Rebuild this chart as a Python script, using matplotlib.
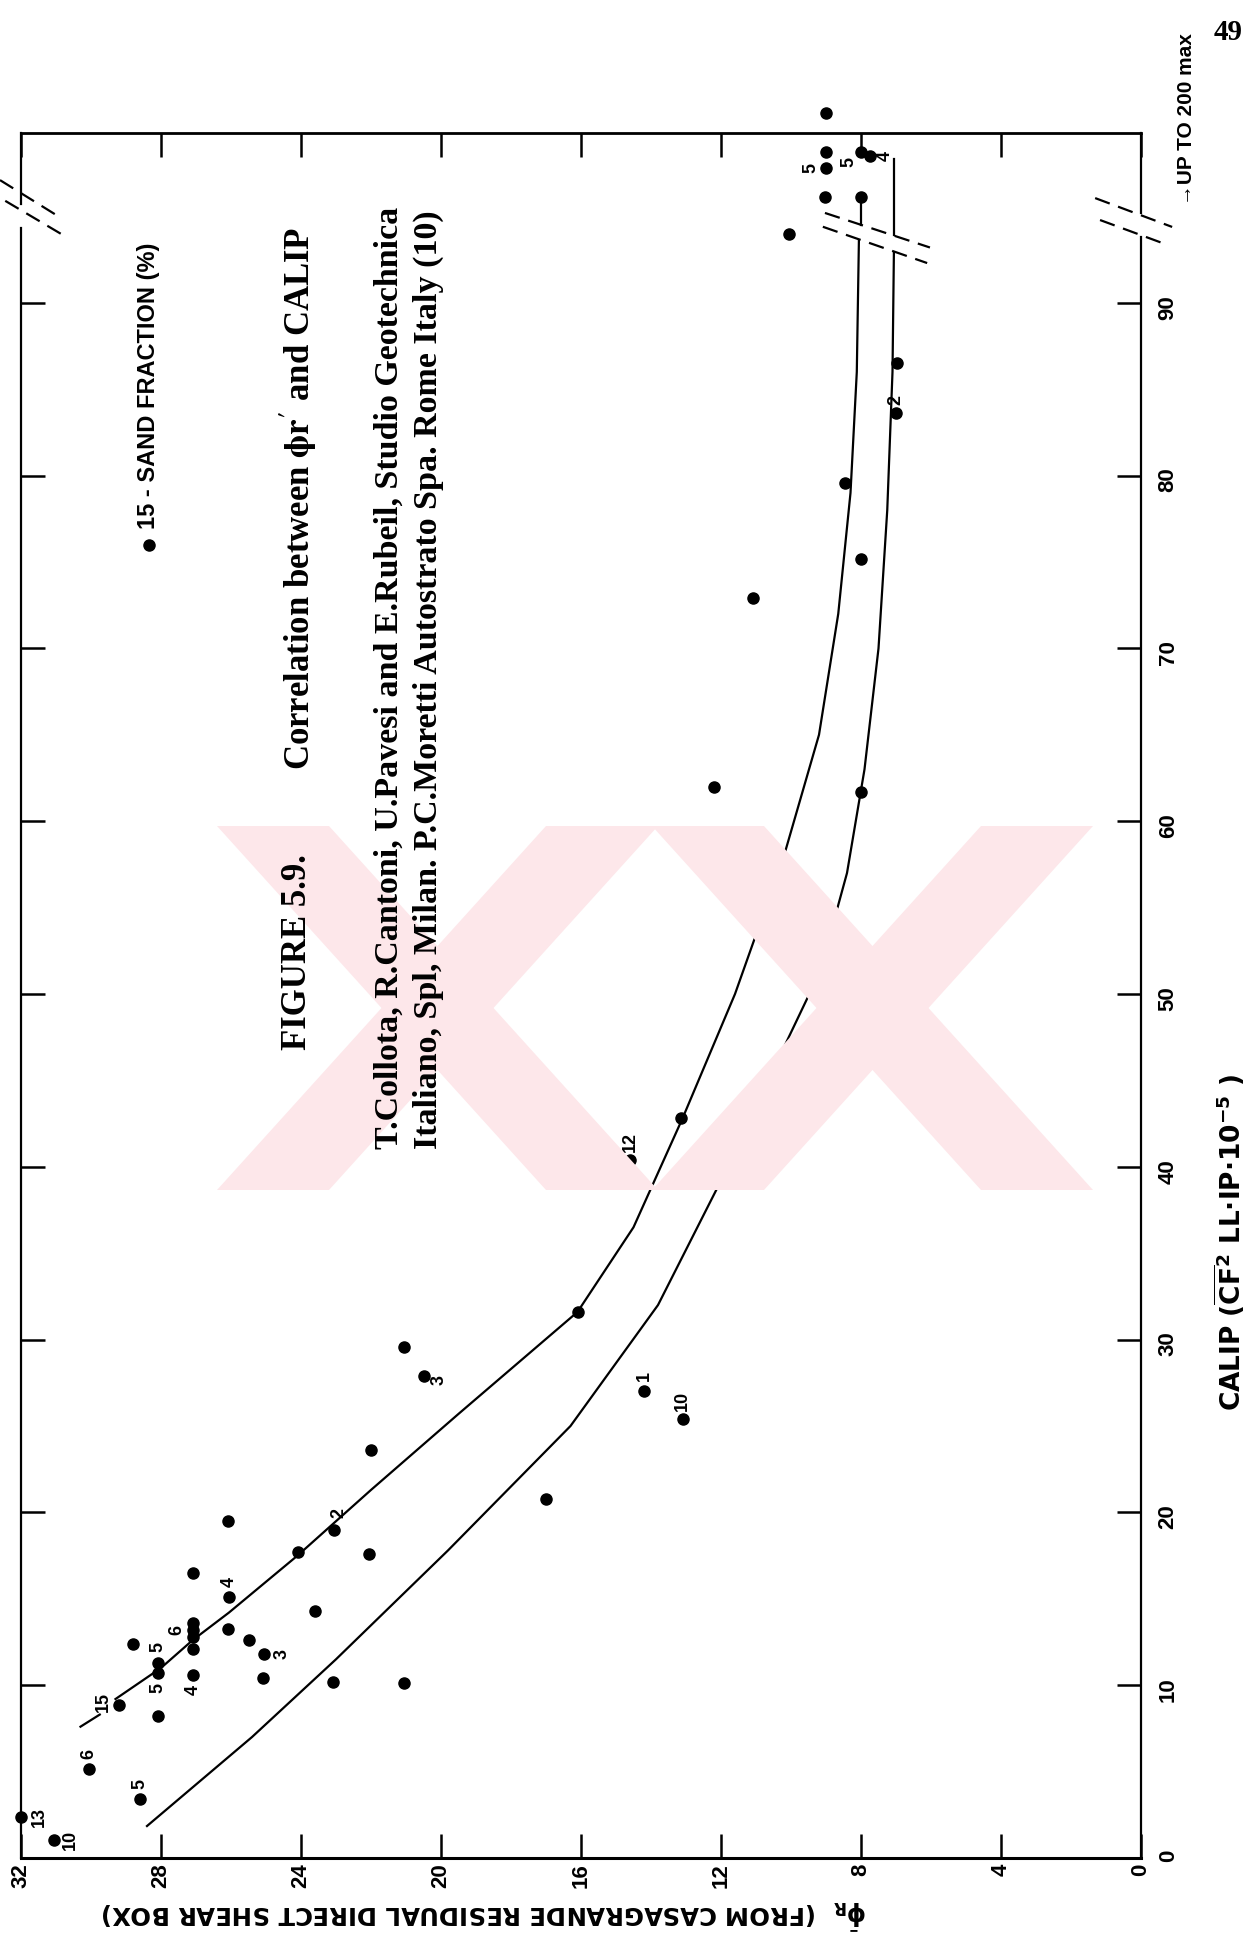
import numpy as np
import matplotlib.pyplot as plt
from matplotlib.patches import Polygon

# residual friction angle phi_r (deg) and CALIP for the plotted points
phi = [32.0, 31.06, 28.6, 30.06, 29.2, 28.1, 28.1, 28.1, 27.08,
       27.1, 27.1, 27.1, 27.1, 26.1, 28.8, 25.5, 25.06, 25.1, 23.1, 21.06,
       27.08, 26.06, 23.6, 24.1, 22.05, 26.1, 23.05, 22.0, 21.06, 20.5,
       17.0, 14.2, 13.1, 16.1, 14.6, 13.15, 12.2, 11.1, 9.17, 8.0,
       8.0, 8.45, 6.97, 7.0, 10.06, 9.03, 8.0, 9.0, 9.0, 8.0, 7.74, 9.0]
calip = [2.37, 1.04, 3.4, 5.15, 8.87, 8.2, 11.3, 10.7, 10.6,
         13.6, 13.2, 12.8, 12.1, 13.25, 12.4, 12.6, 11.8, 10.4, 10.2, 10.1,
         16.5, 15.1, 14.3, 17.7, 17.6, 19.5, 19.0, 23.6, 29.6, 27.9,
         20.8, 27.0, 25.4, 31.6, 40.4, 42.8, 62.0, 72.9, 51.3, 61.7,
         75.2, 79.6, 86.5, 83.6, 94.0, 96.1, 96.1, 97.8, 98.7, 98.7, 98.5, 101.0]

# sand fraction (%) written next to some points
lab_text = ['13', '10', '5', '6', '15', '5', '5', '4', '6', '3', '4', '2',
            '3', '1', '10', '12', '2', '5', '5', '4']
lab_phi = [32.0, 31.06, 28.6, 30.06, 29.2, 28.1, 28.1, 27.08, 27.1, 25.06,
           26.06, 23.05, 20.5, 14.2, 13.1, 14.6, 7.0, 9.0, 8.0, 7.74]
lab_calip = [2.37, 1.04, 3.4, 5.15, 8.87, 11.3, 10.7, 10.6, 13.2, 11.8,
             15.1, 19.0, 27.9, 27.0, 25.4, 40.4, 83.6, 97.8, 98.7, 98.5]
lab_off = [(13, 0), (12, 0), (0, 11), (0, 11), (-11, 2), (0, 11), (0, -11),
           (0, -11), (-11, 0), (13, 0), (0, 11), (3, 12), (11, -3), (0, 11),
           (0, 13), (0, 13), (0, 10), (-11, 0), (-9, -7), (11, 0)]

# upper and lower envelope curves
up_dash_phi = [30.3, 29.75]
up_dash_calip = [7.6, 8.3]
up_phi = [29.3, 28.0, 27.1, 26.06, 24.1, 22.0, 19.5, 16.1, 14.5, 13.1,
          11.6, 10.2, 9.2, 8.65, 8.3, 8.12, 8.06]
up_calip = [9.2, 11.0, 12.6, 14.2, 17.5, 21.3, 25.7, 31.6, 36.5, 42.8,
            50.0, 58.0, 65.0, 72.0, 79.0, 86.0, 93.6]
up_top_phi = [8.0, 8.0]
up_top_calip = [94.5, 96.1]
lo_phi = [28.4, 25.4, 23.0, 19.8, 16.3, 13.8, 11.8, 10.3, 9.17, 8.4,
          7.9, 7.5, 7.25, 7.1, 7.06]
lo_calip = [1.85, 7.0, 11.5, 17.8, 25.0, 32.0, 40.0, 46.5, 51.3, 57.0,
            63.0, 70.0, 78.0, 86.0, 92.9]
lo_top_phi = [7.06, 7.06]
lo_top_calip = [93.9, 98.3]

phi_ticks = list(range(0, 33, 4))
calip_ticks = list(range(0, 91, 10))

W, H = 1253, 1948
fig = plt.figure(figsize=(W / 100, H / 100), dpi=100)
ax = fig.add_axes([21 / W, 90 / H, 1120 / W, 1725 / H])
top = 1725 / 17.28
ax.set_xlim(32, 0)
ax.set_ylim(0, top)

sans = ['Liberation Sans Narrow', 'Liberation Sans', 'DejaVu Sans']
serif = ['Liberation Serif', 'DejaVu Serif']


def fx(x):
    return x / W


def fy(y):
    return 1 - y / H


# faint pink watermark behind the plot
pink = '#fde7ea'
for sx in [0, 435]:
    for pts in [[(217, 826), (329, 826), (658, 1190), (546, 1190)],
                [(546, 826), (658, 826), (329, 1190), (217, 1190)]]:
        fig.patches.append(Polygon([(fx(x + sx), fy(y)) for x, y in pts],
                                   closed=True, facecolor=pink,
                                   edgecolor='none', zorder=0,
                                   transform=fig.transFigure))
ax.patch.set_alpha(0)

for s in ['left', 'right']:
    ax.spines[s].set_visible(False)
ax.spines['bottom'].set_linewidth(2.2)
ax.spines['top'].set_linewidth(2.0)

ax.set_xticks(phi_ticks)
ax.set_xticklabels([str(t) for t in phi_ticks], family=sans, weight='bold')
ax.tick_params(axis='x', direction='in', length=17, width=1.8, top=True,
               labelsize=16, labelrotation=90, pad=4)
ax.set_yticks(calip_ticks)
ax.set_yticklabels([str(t) for t in calip_ticks], family=sans, weight='bold')
ax.tick_params(axis='y', direction='in', length=17, width=1.8, left=True,
               right=True, labelleft=False, labelright=True, labelsize=16,
               labelrotation=90, pad=12)

# broken side axes
for x0, gap in [(0, (93.8, 95.2)), (32, (94.3, 95.7))]:
    ax.plot([x0, x0], [0, gap[0]], color='k', lw=1.6, clip_on=False)
    ax.plot([x0, x0], [gap[1], top], color='k', lw=1.6, clip_on=False)

dash = (0, (7, 4))
breaks = [([1.31, -0.89], [96.06, 94.39]), ([1.17, -0.77], [94.79, 93.34]),
          ([32.6, 30.85], [97.1, 94.9]), ([32.45, 30.7], [95.9, 93.8]),
          ([9.03, 6.03], [95.2, 93.2]), ([9.09, 6.11], [94.4, 92.3])]
for bx, by in breaks:
    ax.plot(bx, by, color='k', lw=1.6, ls=dash, clip_on=False)

# curves
ax.plot(up_dash_phi, up_dash_calip, color='k', lw=1.6)
ax.plot(up_phi, up_calip, color='k', lw=1.6)
ax.plot(up_top_phi, up_top_calip, color='k', lw=1.6)
ax.plot(lo_phi, lo_calip, color='k', lw=1.6)
ax.plot(lo_top_phi, lo_top_calip, color='k', lw=1.6)

ax.plot(phi, calip, 'o', color='k', ms=8, clip_on=False, zorder=5)

for t, p, c, (dx, dy) in zip(lab_text, lab_phi, lab_calip, lab_off):
    ax.annotate(t, (p, c), xytext=(dx, dy), textcoords='offset points',
                rotation=90, ha='center', va='center', fontsize=13,
                weight='bold', family=sans)

# legend
ax.plot([28.35], [76.0], 'o', color='k', ms=8)
ax.text(28.35, 76.9, '15 - SAND FRACTION (%)', rotation=90, ha='center',
        va='bottom', fontsize=17, weight='bold', family=sans)

fig.text(fx(1228), fy(32), '49', ha='center', va='center', fontsize=21,
         family=serif, weight='bold')
fig.text(fx(1187), fy(205), '\u2192UP TO 200 max', rotation=90, ha='center',
         va='bottom', fontsize=15, weight='bold', family=sans)
fig.text(fx(1230), fy(1242),
         'CALIP (' + r'$\overline{\mathbf{CF}}^{\mathbf{2}}$'
         + ' LL\u00b7IP\u00b710' + r'$^{\mathbf{-5}}$' + ' )',
         rotation=90, ha='center', va='center', fontsize=19, weight='bold',
         family='DejaVu Sans', math_fontfamily='dejavusans')
fig.text(fx(484), fy(1914),
         r'$\bar{\mathbf{\phi}}_{\mathbf{R}}$' + '  (FROM CASAGRANDE RESIDUAL DIRECT SHEAR BOX)',
         rotation=180, ha='center', va='center', fontsize=17.5, weight='bold',
         family='DejaVu Sans', math_fontfamily='dejavusans')

fig.text(fx(298), fy(1050), 'FIGURE 5.9.', rotation=90, ha='center',
         va='bottom', fontsize=25, weight='bold', family=serif)
fig.text(fx(298), fy(770), r"Correlation between $\mathbf{\phi r'}$ and CALIP",
         rotation=90, ha='center', va='bottom', fontsize=25, weight='bold',
         family=serif, math_fontfamily='stix')
fig.text(fx(389), fy(1149),
         'T.Collota, R.Cantoni, U.Pavesi and E.Rubeil, Studio Geotechnica',
         rotation=90, ha='center', va='bottom', fontsize=24.5, weight='bold',
         family=serif)
fig.text(fx(428), fy(1149),
         'Italiano, Spl, Milan. P.C.Moretti Autostrato Spa. Rome Italy (10)',
         rotation=90, ha='center', va='bottom', fontsize=24.5, weight='bold',
         family=serif)

fig.savefig('out.png', dpi=100, facecolor='white')
